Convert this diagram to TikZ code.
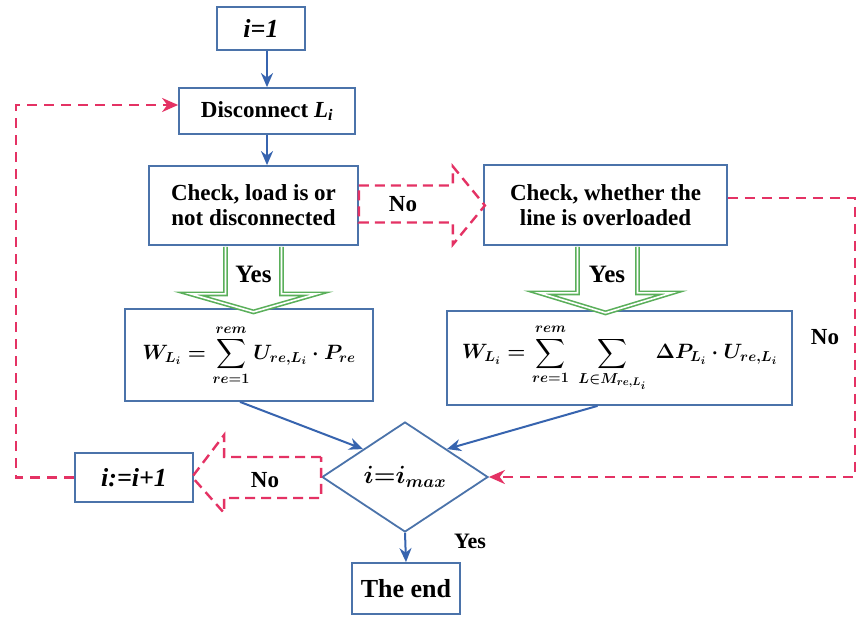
\documentclass[tikz,border=0pt]{standalone}
\usepackage{fontspec}
\setmainfont{Liberation Serif}
\usepackage{amsmath}
\usetikzlibrary{shapes.geometric,arrows.meta,calc}
\definecolor{bxb}{RGB}{75,115,170}
\definecolor{arb}{RGB}{55,100,175}
\definecolor{rd}{RGB}{228,50,100}
\definecolor{gr}{RGB}{90,175,90}
\begin{document}
\begin{tikzpicture}[x=1pt,y=-1pt,
 fbox/.style={draw=bxb, line width=1.8pt, fill=white, inner sep=2pt, align=center, font=\fontsize{23}{25}\selectfont\bfseries\boldmath},
 blarr/.style={draw=arb, line width=2pt, -{Stealth[length=14pt,width=12pt]}},
 rdash/.style={draw=rd, line width=2.4pt, dash pattern=on 10pt off 7pt},
 rdarr/.style={rdash, -{Stealth[length=16pt,width=14pt]}},
 hollow/.style={draw=rd, line width=2.4pt, dash pattern=on 10pt off 6pt, line join=miter},
 garr/.style={draw=gr, line width=1.6pt, double=white, double distance=1.6pt, line join=miter, fill=white},
 lbl/.style={font=\fontsize{25}{28}\selectfont\bfseries}]
\useasboundingbox (0,0) rectangle (858,628);
\fill[white] (0,0) rectangle (858,628);

\node[fbox, minimum width=88pt, minimum height=43pt, font=\fontsize{26}{28}\selectfont\bfseries\itshape] (i1) at (261,28.5) {i=1};
\node[fbox, minimum width=176pt, minimum height=46pt] (disc) at (267,111) {Disconnect \textit{L}\textsubscript{\textit{i}}};
\node[fbox, minimum width=209pt, minimum height=79pt] (chk1) at (253.5,205.5) {Check, load is or\\not disconnected};
\node[fbox, minimum width=243pt, minimum height=80pt] (chk2) at (605.5,205) {Check, whether the\\line is overloaded};
\node[fbox, minimum width=248pt, minimum height=92pt, font=\fontsize{22}{24}\selectfont\boldmath] (f1) at (249,355)
  {$\displaystyle W_{L_i}=\sum_{re=1}^{rem}U_{re,L_i}\cdot P_{re}$};
\node[fbox, minimum width=345pt, minimum height=94pt, font=\fontsize{22}{24}\selectfont\boldmath] (f2) at (619.5,358)
  {$\displaystyle W_{L_i}=\sum_{re=1}^{rem}\ \sum_{L\in M_{re,L_i}}\ \Delta P_{L_i}\cdot U_{re,L_i}$};
\node[fbox, diamond, minimum width=166pt, minimum height=110pt, inner sep=0pt, font=\fontsize{24}{26}\selectfont\boldmath] (dia) at (405,477)
  {$i{=}i_{max}$};
\node[fbox, minimum width=118pt, minimum height=49pt, font=\fontsize{26}{28}\selectfont\bfseries\itshape] (i2) at (134,477.5) {i:=i+1};
\node[fbox, minimum width=108pt, minimum height=51pt, font=\fontsize{26}{28}\selectfont\bfseries] (end) at (406,588.5) {The end};

\coordinate (lc) at (16,0);
\coordinate (rc) at (855,0);

\draw[blarr] (disc.north |- i1.south) -- (disc.north);
\draw[blarr] (disc.south) -- (disc.south |- chk1.north);
\draw[blarr] ([xshift=-9pt]f1.south) -- (dia.north west);
\draw[blarr] ([xshift=-22pt]f2.south) -- (dia.north east);
\draw[blarr] (dia.south) -- (end.north);
\node[lbl, font=\fontsize{22}{24}\selectfont\bfseries] (yes3) at (470,541) {Yes};

\draw[rdarr] (i2.west) -- (i2.west -| lc) -- ($(lc |- disc.west)+(0,-6)$) -- ($(disc.west)+(0,-6)$);
\draw[rdarr] ($(chk2.east)+(0,-7)$) -- ($(rc |- chk2.east)+(0,-7)$) -- (rc |- dia.east) -- (dia.east);
\node[lbl, font=\fontsize{23}{25}\selectfont\bfseries] (no3) at (825,337) {No};

\begin{scope}[shift={(chk1.east)}]
\draw[hollow] (0,-20) -- (94,-20) -- (94,-39) -- (126,0) -- (94,39) -- (94,17) -- (0,17) -- cycle;
\end{scope}
\node[lbl, font=\fontsize{23}{25}\selectfont\bfseries] (no1) at (403,204) {No};

\begin{scope}[shift={(dia.west)}]
\draw[hollow] (0,-20) -- (-97,-20) -- (-97,-42) -- (-129,0) -- (-97,36) -- (-97,21) -- (0,21) -- cycle;
\end{scope}
\node[lbl, font=\fontsize{23}{25}\selectfont\bfseries] (no2) at (265,480) {No};

\begin{scope}[shift={(chk1.south)}]
\draw[garr] (-28,1) -- (-28,48) -- (-63,48) -- (0,66) -- (63,48) -- (28,48) -- (28,1);
\end{scope}
\node[lbl] (yes1) at (253.5,274) {Yes};
\begin{scope}[shift={(chk2.south)}]
\draw[garr] (-28,1) -- (-28,47) -- (-66,47) -- (0,67) -- (66,47) -- (32,47) -- (32,1);
\end{scope}
\node[lbl] (yes2) at (607,274) {Yes};
\end{tikzpicture}
\end{document}
